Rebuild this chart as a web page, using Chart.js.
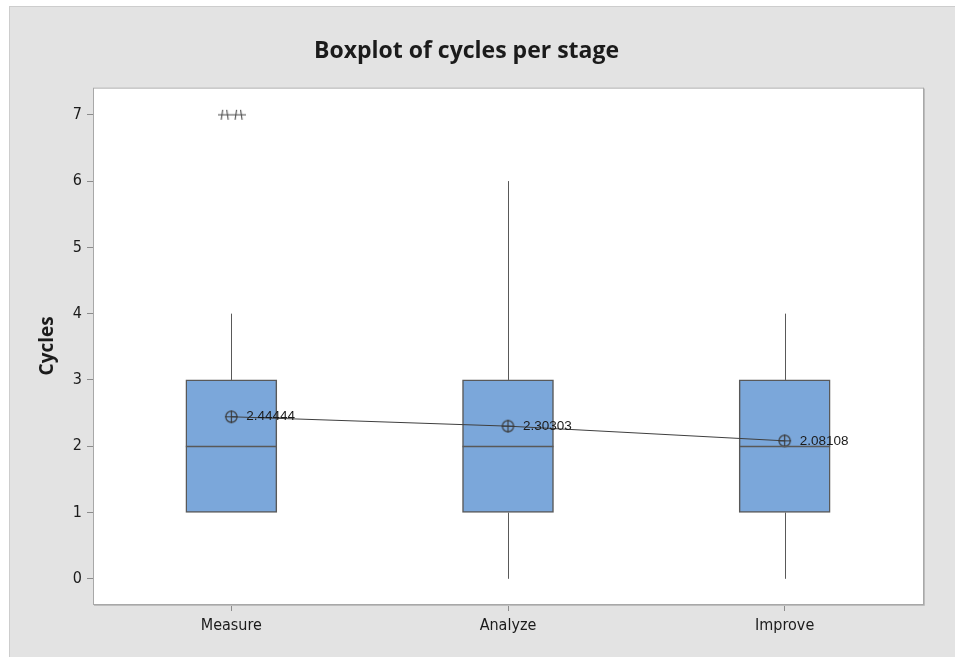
<!DOCTYPE html>
<html>
<head>
<meta charset="utf-8">
<script src="https://cdn.jsdelivr.net/npm/chart.js@4.4.1/dist/chart.umd.min.js"></script>
<style>
  html, body { margin: 0; background: #fff; }
  #frame {
    position: absolute; left: 9px; top: 6px;
    width: 946px; height: 651px;
    background: #e3e3e3;
    border-left: 1px solid #cdcdcd; border-top: 1px solid #cdcdcd;
  }
  canvas { display: block; }
</style>
</head>
<body>
<div id="frame"><canvas id="chart" width="946" height="651"></canvas></div>
<script>
// data
const categories = ["Measure", "Analyze", "Improve"];
const q1 = [1, 1, 1];
const medians = [2, 2, 2];
const q3 = [3, 3, 3];
const whiskerLow = [1, 0, 0];
const whiskerHigh = [4, 6, 4];
const means = [2.44444, 2.30303, 2.08108];
const meanLabels = ["2.44444", "2.30303", "2.08108"];
const outlierValues = [7, 7];
const outlierGroup = [0, 0];
const outlierJitter = [-0.022, 0.028];
const yTicks = [0, 1, 2, 3, 4, 5, 6, 7];

const LINE = "#595959";
const TEXT = "#1b1b1b";
const NARROW = '"Liberation Sans Narrow", "DejaVu Sans Condensed", "Liberation Sans", sans-serif';

// symbol: circle with a cross (mean)
function meanSymbol() {
  const c = document.createElement("canvas");
  c.width = 15; c.height = 15;
  const g = c.getContext("2d");
  g.strokeStyle = "#3a3a3a";
  g.lineWidth = 1.2;
  g.beginPath(); g.arc(7.5, 7.5, 5.6, 0, Math.PI * 2); g.stroke();
  g.beginPath();
  g.moveTo(7.5, 1); g.lineTo(7.5, 14);
  g.moveTo(1, 7.5); g.lineTo(14, 7.5);
  g.stroke();
  return c;
}

// symbol: minitab style asterisk (outlier)
function starSymbol() {
  const c = document.createElement("canvas");
  c.width = 14; c.height = 12;
  const g = c.getContext("2d");
  g.strokeStyle = "#4a4a4a";
  g.lineWidth = 1.1;
  g.beginPath();
  g.moveTo(0, 6); g.lineTo(14, 6);
  g.moveTo(4.5, 1); g.lineTo(3, 11);
  g.moveTo(8.5, 1); g.lineTo(10, 11);
  g.stroke();
  return c;
}

const frameBox = {
  id: "frameBox",
  beforeDatasetsDraw(chart) {
    const { ctx, chartArea: a, scales: { x, y } } = chart;
    ctx.save();
    ctx.fillStyle = "#fff";
    ctx.fillRect(a.left, a.top, a.right - a.left, a.bottom - a.top);
    // whiskers
    ctx.strokeStyle = LINE;
    ctx.lineWidth = 1;
    categories.forEach((c, i) => {
      const px = Math.round(x.getPixelForValue(i)) + 0.5;
      ctx.beginPath();
      ctx.moveTo(px, y.getPixelForValue(q3[i]));
      ctx.lineTo(px, y.getPixelForValue(whiskerHigh[i]));
      ctx.moveTo(px, y.getPixelForValue(q1[i]));
      ctx.lineTo(px, y.getPixelForValue(whiskerLow[i]));
      ctx.stroke();
    });
    ctx.restore();
  },
  afterDatasetsDraw(chart) {
    const { ctx, chartArea: a, scales: { x, y } } = chart;
    ctx.save();
    // medians
    ctx.strokeStyle = LINE;
    ctx.lineWidth = 1.5;
    const half = 45.5;
    categories.forEach((c, i) => {
      const px = x.getPixelForValue(i);
      const py = Math.round(y.getPixelForValue(medians[i])) + 0.5;
      ctx.beginPath();
      ctx.moveTo(px - half, py);
      ctx.lineTo(px + half, py);
      ctx.stroke();
    });
    // mean labels
    ctx.fillStyle = TEXT;
    ctx.font = '13.5px "Liberation Sans", sans-serif';
    ctx.textBaseline = "middle";
    ctx.textAlign = "left";
    means.forEach((m, i) => {
      ctx.fillText(meanLabels[i], x.getPixelForValue(i) + 15, y.getPixelForValue(m));
    });
    // plot frame
    ctx.strokeStyle = "#a8a8a8";
    ctx.lineWidth = 1;
    ctx.strokeRect(a.left + 0.5, a.top + 0.5, a.right - a.left, a.bottom - a.top);
    ctx.strokeStyle = "#bdbdbd";
    ctx.beginPath();
    ctx.moveTo(a.right + 1.5, a.top + 1);
    ctx.lineTo(a.right + 1.5, a.bottom + 1.5);
    ctx.lineTo(a.left + 1, a.bottom + 1.5);
    ctx.stroke();
    ctx.restore();
  }
};

new Chart(document.getElementById("chart"), {
  type: "bar",
  data: {
    datasets: [
      {
        type: "scatter",
        label: "Mean",
        data: means.map((m, i) => ({ x: i, y: m })),
        pointStyle: meanSymbol(),
        order: 0
      },
      {
        type: "scatter",
        label: "Outliers",
        data: outlierValues.map((v, i) => ({ x: outlierGroup[i] + outlierJitter[i], y: v })),
        pointStyle: starSymbol(),
        order: 0
      },
      {
        type: "line",
        label: "Mean connect",
        data: means.map((m, i) => ({ x: i, y: m })),
        borderColor: "#3f3f3f",
        borderWidth: 1,
        pointRadius: 0,
        tension: 0,
        order: 1
      },
      {
        type: "bar",
        label: "Box",
        data: categories.map((c, i) => ({ x: i, y: [q1[i], q3[i]] })),
        backgroundColor: "#7ba7da",
        borderColor: LINE,
        borderWidth: 1.5,
        borderSkipped: false,
        barThickness: 91,
        order: 2
      }
    ]
  },
  options: {
    responsive: false,
    animation: false,
    layout: { padding: { right: 33, left: 0, top: 0, bottom: 0 } },
    plugins: {
      legend: { display: false },
      tooltip: { enabled: false },
      title: {
        display: true,
        text: "Boxplot of cycles per stage",
        color: TEXT,
        font: { family: '"Open Sans", sans-serif', size: 23, weight: "bold" },
        padding: { top: 31, bottom: 22 }
      }
    },
    scales: {
      x: {
        type: "linear",
        min: -0.5,
        max: 2.5,
        offset: false,
        afterBuildTicks: s => { s.ticks = categories.map((c, i) => ({ value: i })); },
        afterFit: s => { s.height = 54; },
        ticks: {
          callback: v => categories[v],
          color: TEXT,
          font: { family: NARROW, size: 16 },
          padding: 5,
          maxRotation: 0
        },
        grid: { display: true, offset: false, drawOnChartArea: false, drawTicks: true, tickLength: 7, color: "#8c8c8c" },
        border: { display: false }
      },
      y: {
        min: -0.38,
        max: 7.41,
        afterBuildTicks: s => { s.ticks = yTicks.map(v => ({ value: v })); },
        afterFit: s => { s.width = 83; },
        ticks: {
          color: TEXT,
          font: { family: NARROW, size: 16 },
          padding: 5
        },
        grid: { display: true, offset: false, drawOnChartArea: false, drawTicks: true, tickLength: 6, color: "#8c8c8c" },
        border: { display: false },
        title: {
          display: true,
          text: "Cycles",
          color: TEXT,
          font: { family: '"Open Sans", sans-serif', size: 19, weight: "bold" },
          padding: { top: 26, bottom: 0 }
        }
      }
    }
  },
  plugins: [frameBox]
});
</script>
</body>
</html>
